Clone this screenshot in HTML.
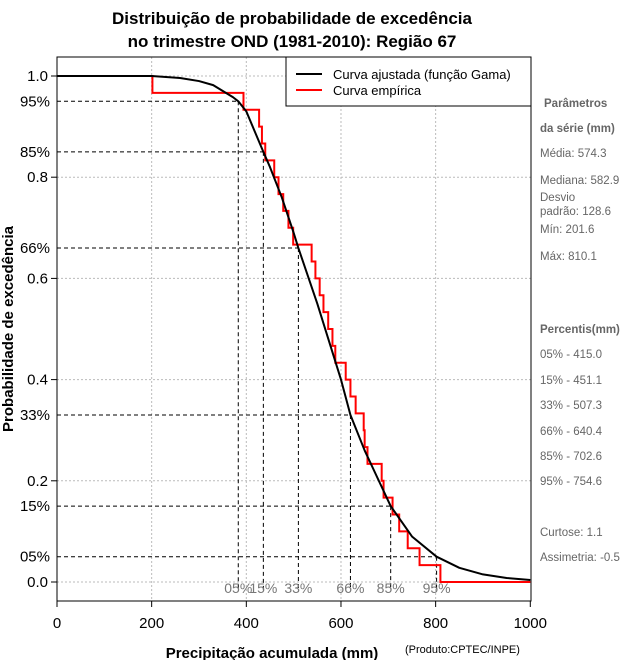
<!DOCTYPE html>
<html><head><meta charset="utf-8"><style>
body{margin:0;background:#fff;width:640px;height:660px;overflow:hidden}
svg{font-family:"Liberation Sans",sans-serif}
</style></head><body>
<svg id="c" width="640" height="660">
<text x="292" y="24" text-anchor="middle" font-size="17" font-weight="bold">Distribuição de probabilidade de excedência</text>
<text x="292" y="47" text-anchor="middle" font-size="17" font-weight="bold">no trimestre OND (1981-2010): Região 67</text>
<g id="grid"></g>
<g id="refs"></g>
<g id="series"></g>
<rect x="57" y="57" width="474" height="544" fill="none" stroke="#000"/>
<g id="axes"></g>
<g>
<rect x="286" y="57" width="245" height="49" fill="#fff" stroke="#000"/>
<line x1="296" y1="74" x2="322" y2="74" stroke="#000" stroke-width="2"/>
<text x="333" y="79" font-size="13">Curva ajustada (função Gama)</text>
<line x1="296" y1="90" x2="322" y2="90" stroke="#f00" stroke-width="2"/>
<text x="333" y="95" font-size="13">Curva empírica</text>
</g>
<g fill="#666" font-size="11.5">
<text x="544" y="107" font-weight="bold">Parâmetros</text>
<text x="540" y="132" font-weight="bold">da série (mm)</text>
<text x="540" y="157">Média: 574.3</text>
<text x="540" y="184">Mediana: 582.9</text>
<text x="540" y="201">Desvio</text>
<text x="540" y="215">padrão: 128.6</text>
<text x="540" y="233">Mín: 201.6</text>
<text x="540" y="260">Máx: 810.1</text>
<text x="540" y="333" font-weight="bold">Percentis(mm)</text>
<text x="540" y="358">05% - 415.0</text>
<text x="540" y="384">15% - 451.1</text>
<text x="540" y="409">33% - 507.3</text>
<text x="540" y="435">66% - 640.4</text>
<text x="540" y="460">85% - 702.6</text>
<text x="540" y="485">95% - 754.6</text>
<text x="540" y="536">Curtose: 1.1</text>
<text x="540" y="561">Assimetria: -0.5</text>
</g>
<text x="272" y="658" text-anchor="middle" font-size="15" font-weight="bold">Precipitação acumulada (mm)</text>
<text x="405" y="653" font-size="11">(Produto:CPTEC/INPE)</text>
<text transform="translate(13,329) rotate(-90)" text-anchor="middle" font-size="15" font-weight="bold">Probabilidade de excedência</text>
</svg>
<script>
const xTicks=[0,200,400,600,800,1000];
const yTicks=[0,0.2,0.4,0.6,0.8,1.0];
const empValues=[201.6,394,427,433,440,459,468,478,489,499,538,546,555,563,573,582,588,610,620,631,648,650,656,686,690,709,723,741,766,810.1];
const fitX=[0,200,260,300,330,372,383,400,436,450,475,500,510,550,600,620,650,700,705,750,802,850,900,950,1000];
const fitP=[1.0,1.0,0.996,0.99,0.982,0.958,0.95,0.93,0.85,0.82,0.76,0.69,0.66,0.55,0.40,0.33,0.26,0.16,0.15,0.09,0.05,0.028,0.015,0.008,0.004];
const pctLabels=["95%","85%","66%","33%","15%","05%"];
const pctProb=[0.95,0.85,0.66,0.33,0.15,0.05];
const pctMm=[383,436,510,620,705,802];
const pctBottom=["05%","15%","33%","66%","85%","95%"];
const X=v=>57+v*0.4733, Y=p=>582-p*506;
const NS="http://www.w3.org/2000/svg";
function mk(parent,tag,attrs){const e=document.createElementNS(NS,tag);for(const k in attrs)e.setAttribute(k,attrs[k]);document.getElementById(parent).appendChild(e);return e;}
xTicks.slice(1,-1).forEach(v=>{const e=mk('grid','line',{x1:X(v),x2:X(v),y1:57,y2:601,stroke:'#bbb','stroke-dasharray':'2,2'});

});
yTicks.forEach(v=>{const e=mk('grid','line',{x1:57,x2:531,y1:Y(v),y2:Y(v),stroke:'#bbb','stroke-dasharray':'2,2'});

});
pctProb.forEach((p,i)=>{const x=X(pctMm[i]),y=Y(p);
const h=mk('refs','line',{x1:57,x2:x,y1:y,y2:y,stroke:'#000','stroke-dasharray':'4,3'});


const v=mk('refs','line',{x1:x,x2:x,y1:y,y2:590,stroke:'#000','stroke-dasharray':'4,3'});


const t=mk('refs','text',{x:x,y:593,'text-anchor':'middle','font-size':'14',fill:'#777'});t.textContent=pctBottom[i];

});
let d='M'+X(0)+','+Y(1);
empValues.forEach((v,i)=>{d+=' L'+X(v)+','+Y(1-i/30)+' L'+X(v)+','+Y(1-(i+1)/30);});
d+=' L'+X(1000)+','+Y(0);
const emp=mk('series','path',{d:d,fill:'none',stroke:'#f00','stroke-width':2});


const fit=mk('series','path',{d:'M'+fitX.map((v,i)=>X(v)+','+Y(fitP[i])).join(' L'),fill:'none',stroke:'#000','stroke-width':2,'stroke-linejoin':'round'});


xTicks.forEach(v=>{mk('axes','line',{x1:X(v),x2:X(v),y1:601,y2:607,stroke:'#000'});
const t=mk('axes','text',{x:X(v),y:628,'text-anchor':'middle','font-size':'15'});t.textContent=v;

});
yTicks.forEach(v=>{mk('axes','line',{x1:51,x2:57,y1:Y(v),y2:Y(v),stroke:'#000'});
const t=mk('axes','text',{x:48,y:Y(v)+5,'text-anchor':'end','font-size':'15'});t.textContent=v.toFixed(1);

});
pctProb.forEach((p,i)=>{const t=mk('axes','text',{x:50,y:Y(p)+5,'text-anchor':'end','font-size':'15'});t.textContent=pctLabels[i];

});
</script>
</body></html>
